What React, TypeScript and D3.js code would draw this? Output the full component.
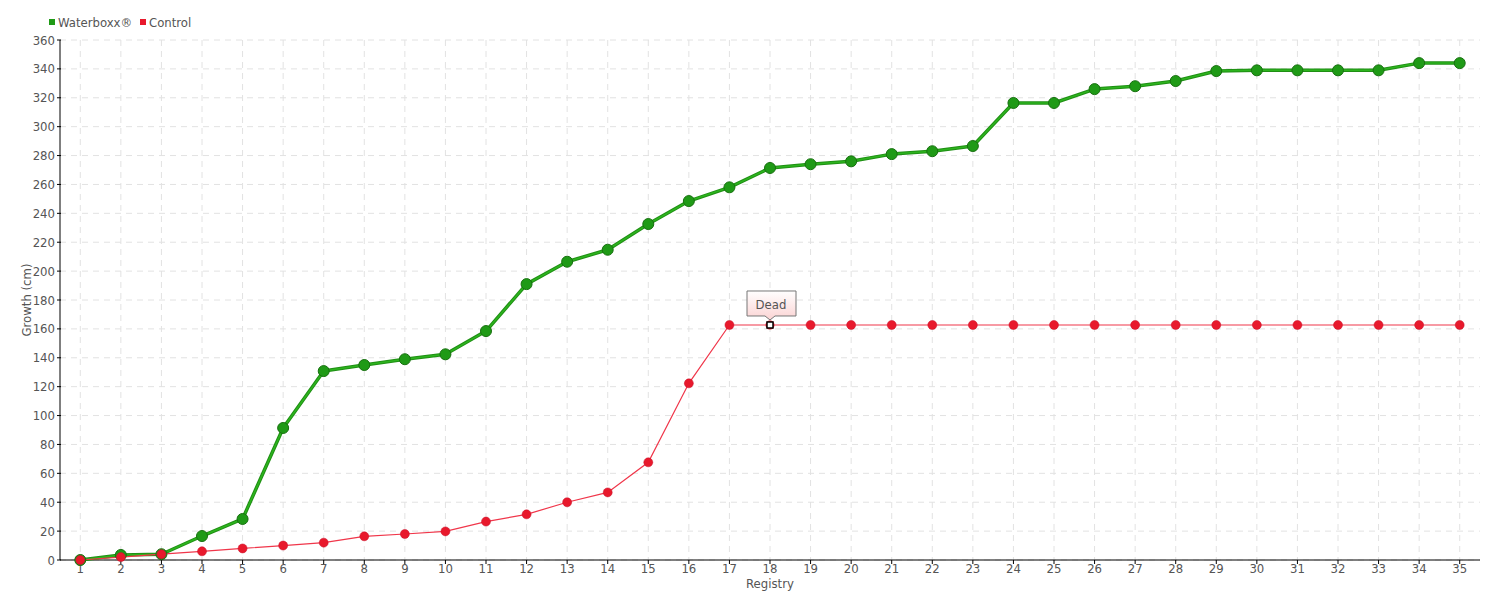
import React from "react";
import * as d3 from "d3";

const registry = d3.range(1, 36);
const waterboxx = [0, 3.5, 4, 16.6, 28.4, 91.4, 130.8, 135, 139, 142.4, 158.5, 191, 206.5, 214.8, 232.6, 248.5, 258, 271.4, 274, 276, 281, 283, 286.6, 316.4, 316.4, 326, 328, 331.6, 338.5, 339, 339, 339, 339, 344, 344];
const control = [0, 2, 4, 6, 8, 10, 12, 16.4, 18, 19.8, 26.6, 31.6, 40, 46.8, 67.6, 122.3, 162.7, 162.7, 162.7, 162.7, 162.7, 162.7, 162.7, 162.7, 162.7, 162.7, 162.7, 162.7, 162.7, 162.7, 162.7, 162.7, 162.7, 162.7, 162.7];
const yTicks = d3.range(0, 361, 20);
const seriesNames = ["Waterboxx®", "Control"];
const annotationIndex = 17;
const annotationText = "Dead";

const FONT = "'DejaVu Sans Condensed', 'Liberation Sans Narrow', Roboto, sans-serif";

export default function App() {
  const left = 60, right = 1480, top = 40, bottom = 560;
  const x = d3.scaleLinear().domain([0.5, 35.5]).range([left, right]);
  const y = d3.scaleLinear().domain([0, 360]).range([bottom, top]);
  const lineG = d3.line<number>().x((_, i) => x(registry[i])).y((d) => y(d));
  const ax = x(registry[annotationIndex]);
  const ay = y(control[annotationIndex]);
  return (
    <svg width={1500} height={600} style={{ position: "absolute", left: 0, top: 0, fontFamily: FONT }}>
      <defs>
        <linearGradient id="tip" x1="0" y1="0" x2="0" y2="1">
          <stop offset="0" stopColor="#ffffff" />
          <stop offset="1" stopColor="#fbd3d3" />
        </linearGradient>
      </defs>
      {/* grid */}
      {yTicks.map((t) => (
        <line key={"h" + t} x1={left} x2={right} y1={y(t)} y2={y(t)} stroke="#e2e2e2" strokeDasharray="6,5" />
      ))}
      {registry.map((r) => (
        <line key={"v" + r} x1={x(r)} x2={x(r)} y1={top} y2={bottom} stroke="#e2e2e2" strokeDasharray="6,5" />
      ))}
      {/* axes */}
      <line x1={left} x2={left} y1={top} y2={bottom} stroke="#000" />
      <line x1={left} x2={right} y1={bottom} y2={bottom} stroke="#000" />
      {yTicks.map((t) => (
        <g key={"yt" + t}>
          <line x1={left - 3} x2={left + 1} y1={y(t)} y2={y(t)} stroke="#000" />
          <text x={left - 5} y={y(t)} dy="0.35em" textAnchor="end" fontSize={13} fill="#555">{t}</text>
        </g>
      ))}
      {registry.map((r) => (
        <g key={"xt" + r}>
          <line x1={x(r)} x2={x(r)} y1={bottom} y2={bottom + 4} stroke="#000" />
          <text x={x(r)} y={bottom + 13} textAnchor="middle" fontSize={13} fill="#555">{r}</text>
        </g>
      ))}
      <text x={(left + right) / 2} y={588} textAnchor="middle" fontSize={13} fill="#555">Registry</text>
      <text transform={`translate(31,${(top + bottom) / 2}) rotate(-90)`} textAnchor="middle" fontSize={13} fill="#555">Growth (cm)</text>
      {/* green series */}
      <path d={lineG(waterboxx) || ""} fill="none" stroke="#1f8f14" strokeWidth={3.5} strokeLinejoin="round" />
      <path d={lineG(waterboxx) || ""} fill="none" stroke="#2db41e" strokeWidth={1.5} strokeLinejoin="round" />
      {/* red series */}
      <path d={lineG(control) || ""} fill="none" stroke="#f0364a" strokeWidth={1.2} />
      {waterboxx.map((v, i) => (
        <circle key={"g" + i} cx={x(registry[i])} cy={y(v)} r={5.5} fill="#1f9a16" stroke="#17700f" strokeWidth={1} />
      ))}
      {control.map((v, i) =>
        i === annotationIndex ? null : (
          <circle key={"r" + i} cx={x(registry[i])} cy={y(v)} r={4.5} fill="#e8192c" stroke="#c8102a" strokeWidth={0.5} />
        )
      )}
      {/* annotation */}
      <circle cx={ax} cy={ay} r={4.5} fill="#e8192c" />
      <rect x={ax - 3} y={ay - 3} width={6} height={6} fill="#fff" stroke="#000" strokeWidth={1.5} />
      <path
        d={`M${ax - 23},${ay - 34} H${ax + 26} V${ay - 9} H${ax + 5} L${ax},${ay - 5} L${ax - 5},${ay - 9} H${ax - 23} Z`}
        fill="url(#tip)"
        stroke="#777"
        strokeWidth={1}
      />
      <text x={ax + 1} y={ay - 21} dy="0.35em" textAnchor="middle" fontSize={13} fill="#555">{annotationText}</text>
      {/* legend */}
      <rect x={49} y={19} width={6} height={6} fill="#1f9a16" />
      <text x={58} y={22} dy="0.35em" fontSize={13} fill="#555">{seriesNames[0]}</text>
      <rect x={140} y={19} width={6} height={6} fill="#e8192c" />
      <text x={149} y={22} dy="0.35em" fontSize={13} fill="#555">{seriesNames[1]}</text>
    </svg>
  );
}
